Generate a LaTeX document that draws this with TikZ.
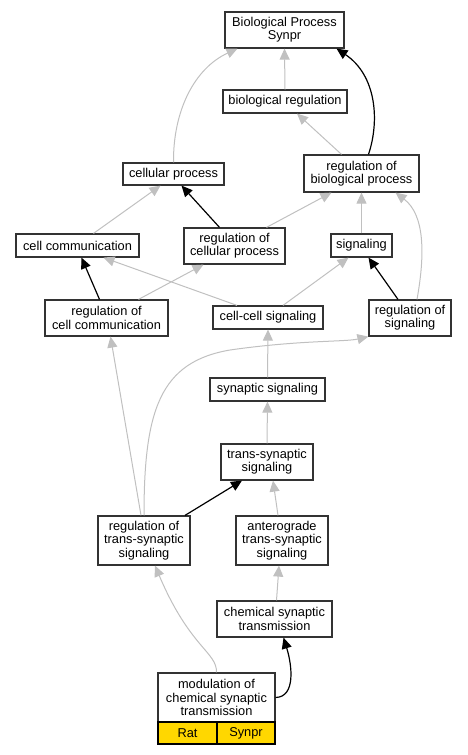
\documentclass[tikz,border=0pt]{standalone}
\usepackage{fontspec}
\setmainfont{Liberation Sans}
\usetikzlibrary{arrows.meta}
\definecolor{edgegray}{HTML}{C0C0C0}
\definecolor{boxline}{HTML}{333333}
\definecolor{gold}{HTML}{FFD700}
\begin{document}
\begin{tikzpicture}[x=1pt,y=-1pt,
  term/.style={draw=boxline,line width=1.2pt,fill=white,rectangle,inner sep=0pt,align=center,
    font=\fontsize{12.8}{13.3}\selectfont},
  cell/.style={draw=black,line width=1.2pt,fill=gold,rectangle,inner sep=0pt,align=center,
    font=\fontsize{12.8}{13.3}\selectfont},
  isa/.style={draw=edgegray,line width=1pt,-{Triangle[length=11pt,width=10pt]}},
  reg/.style={draw=black,line width=1.2pt,-{Triangle[length=11pt,width=10pt]}}]
\useasboundingbox (0,0) rectangle (467,755);
\node[term,minimum width=119pt,minimum height=36pt] (bp) at (284.5,30) {Biological Process\\Synpr};
\node[term,minimum width=124pt,minimum height=23pt] (br) at (285,101.5) {biological regulation};
\node[term,minimum width=101pt,minimum height=22pt] (cp) at (173.5,174) {cellular process};
\node[term,minimum width=115pt,minimum height=37pt] (rbp) at (361.5,173.5) {regulation of\\biological process};
\node[term,minimum width=123pt,minimum height=23pt] (cc) at (77.5,245.5) {cell communication};
\node[term,minimum width=101pt,minimum height=36pt] (rcp) at (234.5,246) {regulation of\\cellular process};
\node[term,minimum width=61pt,minimum height=23pt] (sig) at (361.5,245.5) {signaling};
\node[term,minimum width=123pt,minimum height=36pt] (rcc) at (106.5,318) {regulation of\\cell communication};
\node[term,minimum width=110pt,minimum height=23pt] (ccs) at (268,317.5) {cell-cell signaling};
\node[term,minimum width=82pt,minimum height=36pt] (rs) at (410,318) {regulation of\\signaling};
\node[term,minimum width=115pt,minimum height=23pt] (ss) at (267.5,389.5) {synaptic signaling};
\node[term,minimum width=92pt,minimum height=36pt] (ts) at (267,462) {trans-synaptic\\signaling};
\node[term,minimum width=92pt,minimum height=49pt] (rts) at (144,540.5) {regulation of\\trans-synaptic\\signaling};
\node[term,minimum width=92pt,minimum height=49pt] (ats) at (282,540.5) {anterograde\\trans-synaptic\\signaling};
\node[term,minimum width=115pt,minimum height=36pt] (cst) at (274.5,619) {chemical synaptic\\transmission};
\node[term,minimum width=117pt,minimum height=49pt] (mod) at (216.5,697.5) {modulation of\\chemical synaptic\\transmission};
\node[cell,minimum width=59pt,minimum height=22pt] (rat) at (187.5,733) {Rat};
\node[cell,minimum width=58pt,minimum height=22pt] (synpr) at (246,733) {Synpr};
% edges
\draw[isa] (cp.north) .. controls (173,110) and (195,68) .. ([xshift=-47pt]bp.south);
\draw[isa] (br.north) -- (bp.south);
\draw[reg] ([xshift=7pt]rbp.north) .. controls (380,120) and (376,75) .. ([xshift=52pt]bp.south);
\draw[isa] ([xshift=-20pt]rbp.north) -- ([xshift=12pt]br.south);
\draw[isa] ([xshift=16pt]cc.north) -- ([xshift=-13pt]cp.south);
\draw[reg] ([xshift=-15pt]rcp.north) -- ([xshift=8pt]cp.south);
\draw[isa] ([xshift=32pt]rcp.north) -- ([xshift=-30pt]rbp.south);
\draw[isa] (sig.north) -- (rbp.south);
\draw[isa] ([xshift=7pt]rs.north) .. controls (425,255) and (425,215) .. ([xshift=34pt]rbp.south);
\draw[reg] ([xshift=-12pt]rs.north) -- ([xshift=7pt]sig.south);
\draw[reg] ([xshift=-7pt]rcc.north) -- ([xshift=4pt]cc.south);
\draw[isa] ([xshift=32pt]rcc.north) -- ([xshift=-31pt]rcp.south);
\draw[isa] ([xshift=-31pt]ccs.north) -- ([xshift=26pt]cc.south);
\draw[isa] ([xshift=15pt]ccs.north) -- ([xshift=-13pt]sig.south);
\draw[isa] (ss.north) -- (ccs.south);
\draw[isa] (ts.north) -- (ss.south);
\draw[isa] ([xshift=-3pt]rts.north) -- ([xshift=4pt]rcc.south);
\draw[isa] (rts.north) .. controls (144,410) and (160,362) .. (230,350) .. controls (300,340) and (345,342) .. (rs.south west);
\draw[reg] ([xshift=41pt]rts.north) -- ([xshift=-25pt]ts.south);
\draw[isa] ([xshift=-4pt]ats.north) -- ([xshift=6pt]ts.south);
\draw[isa] ([xshift=2pt]cst.north) -- ([xshift=-3pt]ats.south);
\draw[isa] (mod.north) .. controls (217,652) and (190,648) .. ([xshift=11pt]rts.south);
\draw[reg] (mod.east) .. controls (296,697) and (292,665) .. ([xshift=9pt]cst.south);
\end{tikzpicture}
\end{document}
